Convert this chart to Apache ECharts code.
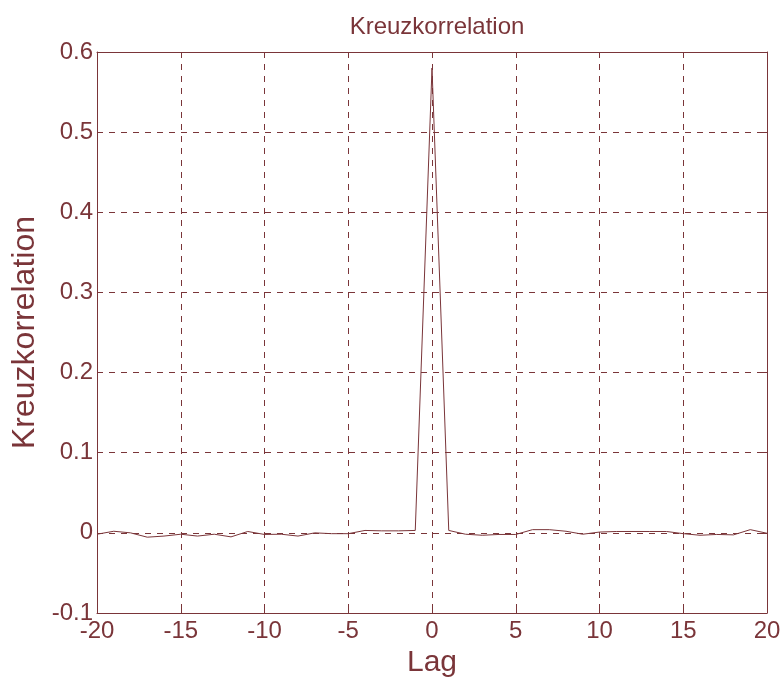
<!DOCTYPE html>
<html>
<head>
<meta charset="utf-8">
<script src="https://cdn.jsdelivr.net/npm/echarts@6/dist/echarts.min.js"></script>
<style>
  html, body { margin: 0; padding: 0; background: #ffffff; }
  #chart { width: 784px; height: 682px; }
</style>
</head>
<body>
<div id="chart"></div>
<script>
// Cross-correlation estimate for lags -20 … 20
const lags = [
  -20, -19, -18, -17, -16, -15, -14, -13, -12, -11,
  -10, -9, -8, -7, -6, -5, -4, -3, -2, -1,
  0,
  1, 2, 3, 4, 5, 6, 7, 8, 9, 10,
  11, 12, 13, 14, 15, 16, 17, 18, 19, 20
];
const xcorr = [
  -0.0017, 0.002, 0.0, -0.0054, -0.004, -0.0017, -0.004, -0.0017, -0.005, 0.0017,
  -0.002, -0.0017, -0.004, 0.0, -0.001, -0.001, 0.003, 0.0025, 0.0025, 0.003,
  0.58,
  0.003, -0.0017, -0.003, -0.002, -0.002, 0.004, 0.004, 0.002, -0.0017, 0.001,
  0.0017, 0.0017, 0.0017, 0.0017, -0.001, -0.003, -0.002, -0.0025, 0.004, -0.0005
];
const xTicks = { min: -20, max: 20, step: 5 };
const yTicks = { min: -0.1, max: 0.6, step: 0.1 };

const ink = '#7a3539';
const fontFam = '"Liberation Sans", Arial, sans-serif';

const chart = echarts.init(document.getElementById('chart'), null, { renderer: 'canvas' });

const frameAxisX = (pos, labels) => ({
  type: 'value', position: pos, min: xTicks.min, max: xTicks.max, interval: xTicks.step,
  axisLine: { show: true, onZero: false, lineStyle: { color: ink, width: 1 } },
  axisTick: { show: true, inside: true, length: 6, lineStyle: { color: ink } },
  axisLabel: { show: labels, color: ink, fontSize: 24, fontFamily: fontFam, margin: 6 },
  splitLine: { show: labels, lineStyle: { color: ink, type: [6, 6], width: 1 } }
});
const frameAxisY = (pos, labels) => ({
  type: 'value', position: pos, min: yTicks.min, max: yTicks.max, interval: yTicks.step,
  axisLine: { show: true, onZero: false, lineStyle: { color: ink, width: 1 } },
  axisTick: { show: true, inside: true, length: 6, lineStyle: { color: ink } },
  axisLabel: {
    show: labels, color: ink, fontSize: 24, fontFamily: fontFam, margin: 4,
    formatter: v => (Math.round(v * 10) / 10).toString()
  },
  splitLine: { show: labels, lineStyle: { color: ink, type: [6, 6], width: 1 } }
});

const xMain = frameAxisX('bottom', true);
xMain.name = 'Lag';
xMain.nameLocation = 'middle';
xMain.nameGap = 33;
xMain.nameTextStyle = { color: ink, fontSize: 30, fontFamily: fontFam };

const yMain = frameAxisY('left', true);
yMain.name = 'Kreuzkorrelation';
yMain.nameLocation = 'middle';
yMain.nameGap = 55;
yMain.nameTextStyle = { color: ink, fontSize: 32, fontFamily: fontFam };

chart.setOption({
  animation: false,
  backgroundColor: '#ffffff',
  title: {
    text: 'Kreuzkorrelation',
    left: 432, top: 10, textAlign: 'center',
    textStyle: { color: ink, fontSize: 24, fontWeight: 'normal', fontFamily: fontFam }
  },
  grid: { left: 97, right: 17, top: 52, bottom: 69, containLabel: false, outerBoundsMode: 'none' },
  xAxis: [xMain, frameAxisX('top', false)],
  yAxis: [yMain, frameAxisY('right', false)],
  series: [{
    type: 'line',
    xAxisIndex: 0, yAxisIndex: 0,
    data: lags.map((l, i) => [l, xcorr[i]]),
    showSymbol: false,
    lineStyle: { color: ink, width: 1 },
    itemStyle: { color: ink }
  }]
});
</script>
</body>
</html>
